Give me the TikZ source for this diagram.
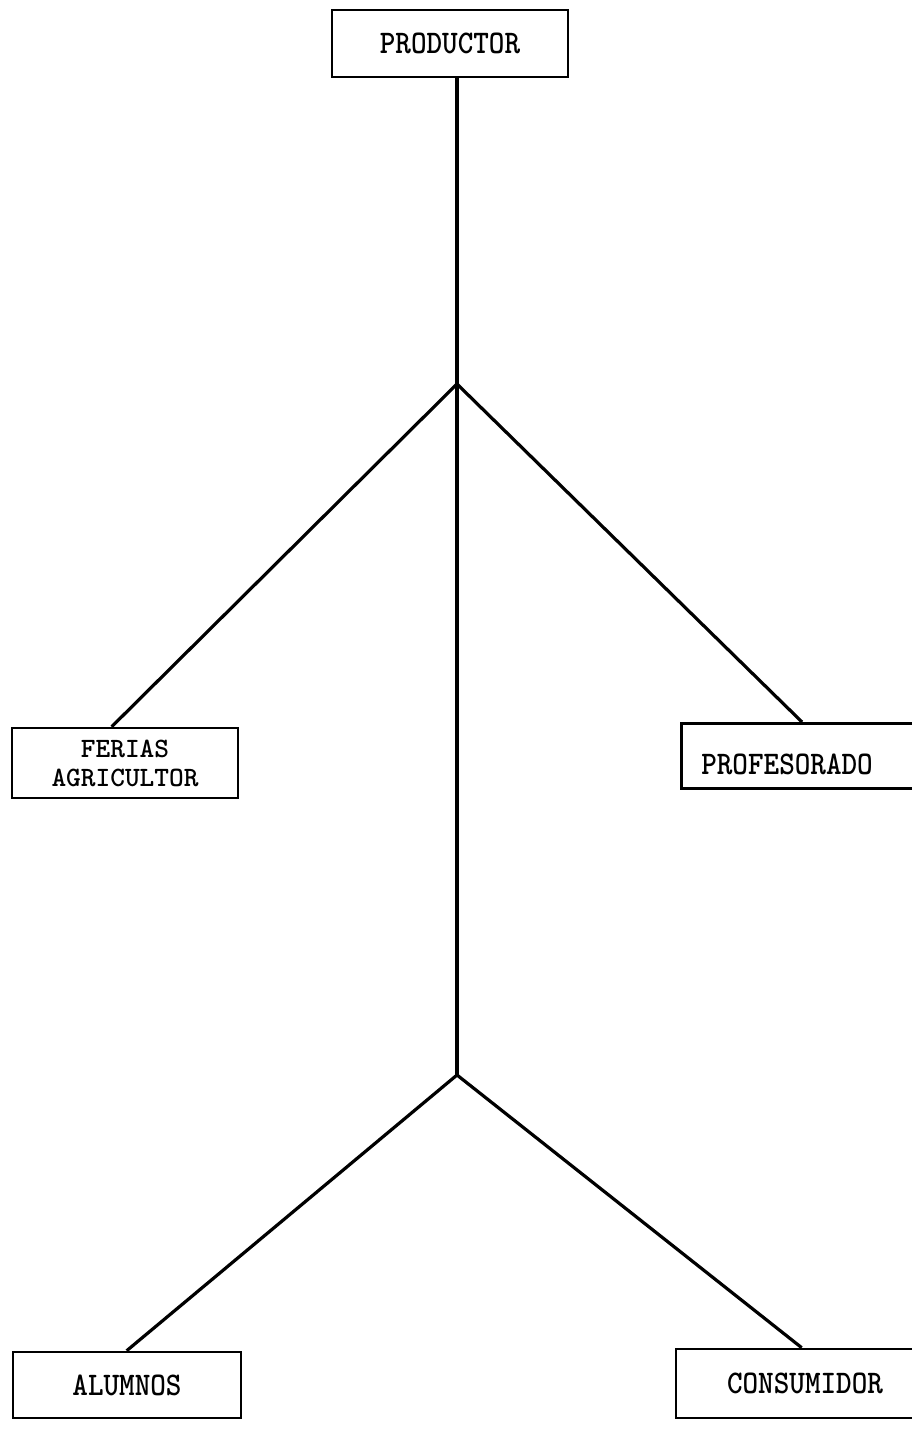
\documentclass[tikz,border=0pt]{standalone}
\usepackage{graphicx}
\usetikzlibrary{calc}
% typewriter lettering, slightly condensed
\newcommand{\tw}[1]{\scalebox{0.9}[1]{#1}}
\tikzset{
  box/.style={draw, line width=2.6pt, rectangle, inner sep=0pt,
    font=\fontsize{33}{28}\selectfont\ttfamily\bfseries},
  link/.style={line width=3.2pt}
}
\begin{document}
\begin{tikzpicture}[x=1pt,y=-1pt]
\useasboundingbox (0,0) rectangle (912,1429);

\node[box, minimum width=236pt, minimum height=67pt] (prod) at (450,43.5) {\tw{PRODUCTOR}};
\node[box, minimum width=226pt, minimum height=70pt, align=center,
  font=\fontsize{28}{29}\selectfont\ttfamily\bfseries] (fer) at (125,763)
  {FERIAS\\AGRICULTOR};
\node[box, anchor=north west, text height=51pt, text depth=14pt, text width=230pt,
  align=left, inner xsep=20pt] (prof) at (680,722) {\tw{PROFESORADO}};
\node[box, minimum width=228pt, minimum height=66pt] (alu) at (127,1385) {\tw{ALUMNOS}};
\node[box, minimum width=258pt, minimum height=69pt] (cons) at (805,1383.5) {\tw{CONSUMIDOR}};

% junctions on the trunk
\coordinate (j1) at (457,384);
\coordinate (j2) at (457,1075);

\draw[link] (prod.south -| j1) -- (j2);
\draw[link] ([xshift=101pt]fer.north west) -- (j1) -- ([xshift=122pt]prof.north west);
\draw[link] ([xshift=115pt]alu.north west) -- (j2) -- ([xshift=127pt]cons.north west);
\end{tikzpicture}
\end{document}
